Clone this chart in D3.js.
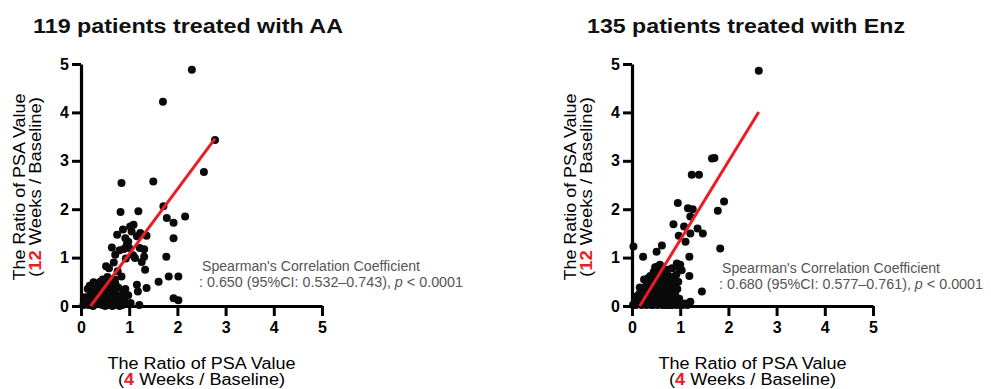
<!doctype html>
<html>
<head>
<meta charset="utf-8">
<title>PSA ratio scatter</title>
<script src="https://cdn.jsdelivr.net/npm/d3@7"></script>
<style>
  body { margin: 0; background: #fff; }
  svg text { font-family: "Liberation Sans", Arial, sans-serif; }
</style>
</head>
<body>
<svg id="chart" width="991" height="389"></svg>
<script>
  const titles = ["119 patients treated with AA", "135 patients treated with Enz"];
  const xTicks = [0, 1, 2, 3, 4, 5];
  const yTicks = [0, 1, 2, 3, 4, 5];

  // [4 weeks / baseline, 12 weeks / baseline]
  const aaPoints = [
    [2.30, 4.88], [1.70, 4.22], [2.78, 3.43], [2.55, 2.77], [0.84, 2.54], [1.50, 2.57],
    [1.71, 2.06], [2.16, 1.85], [1.78, 1.82], [1.92, 1.72], [1.19, 1.96], [0.82, 1.94],
    [1.92, 1.40], [1.77, 1.02], [1.09, 1.68], [0.87, 1.58], [0.75, 1.47], [1.05, 1.54],
    [1.23, 1.51], [1.36, 1.45], [1.16, 1.44], [0.98, 1.33], [0.95, 1.27], [0.89, 1.18],
    [1.31, 1.17], [0.64, 1.21], [1.12, 0.99], [1.31, 1.02], [0.71, 1.06], [1.26, 0.91],
    [1.33, 0.75], [0.52, 0.82], [0.84, 0.61], [1.61, 0.50], [1.82, 0.61], [2.02, 0.61],
    [1.16, 0.44], [1.36, 0.37], [1.18, 0.30], [1.92, 0.16], [2.02, 0.12], [1.03, 0.06],
    [1.21, 0.02], [0.26, 0.49], [0.39, 0.40], [0.53, 0.47], [0.71, 0.47], [0.60, 0.33],
    [1.02, 1.64], [0.92, 1.40], [1.00, 1.20], [0.80, 1.15], [1.08, 1.05], [0.58, 0.78],
    [0.68, 0.90], [1.22, 1.20], [0.93, 0.98], [0.76, 0.72],
    [0.05, 0.02], [0.10, 0.05], [0.12, 0.12], [0.15, 0.02], [0.18, 0.20], [0.20, 0.08],
    [0.22, 0.30], [0.25, 0.15], [0.28, 0.03], [0.30, 0.22], [0.32, 0.10], [0.35, 0.28],
    [0.36, 0.05], [0.38, 0.18], [0.40, 0.12], [0.42, 0.33], [0.44, 0.02], [0.45, 0.22],
    [0.47, 0.08], [0.48, 0.38], [0.50, 0.15], [0.52, 0.28], [0.54, 0.05], [0.55, 0.20],
    [0.57, 0.40], [0.58, 0.10], [0.60, 0.02], [0.62, 0.25], [0.64, 0.15], [0.65, 0.35],
    [0.67, 0.05], [0.68, 0.20], [0.70, 0.30], [0.72, 0.10], [0.74, 0.02], [0.75, 0.22],
    [0.77, 0.38], [0.78, 0.12], [0.80, 0.05], [0.82, 0.20], [0.84, 0.10], [0.86, 0.02],
    [0.88, 0.28], [0.90, 0.15], [0.30, 0.45], [0.40, 0.50], [0.14, 0.35], [0.08, 0.18],
    [0.95, 0.05], [0.92, 0.35], [0.62, 0.55], [0.45, 0.55], [0.35, 0.40], [0.55, 0.60],
    [0.18, 0.42], [0.70, 0.55], [0.25, 0.00], [0.50, 0.00], [0.65, 0.00], [0.80, 0.00],
    [0.98, 0.22]
  ];

  const enzPoints = [
    [2.63, 4.86], [1.66, 3.05], [1.71, 3.06], [1.24, 2.71], [1.39, 2.71], [0.95, 2.13],
    [1.91, 2.16], [1.78, 1.97], [1.16, 2.02], [1.26, 2.00], [1.21, 1.85], [0.86, 1.69],
    [1.08, 1.64], [1.36, 1.60], [1.47, 1.50], [1.21, 1.50], [0.97, 1.45], [1.11, 1.33],
    [1.83, 1.19], [0.62, 1.25], [0.51, 1.12], [0.03, 1.23], [0.23, 1.02], [1.19, 1.02],
    [0.93, 0.88], [1.00, 0.85], [0.83, 0.78], [1.03, 0.74], [0.52, 0.81], [1.19, 0.62],
    [0.69, 0.67], [0.79, 0.54], [0.86, 0.47], [0.90, 0.33], [1.45, 0.30], [0.86, 0.23],
    [1.21, 0.09], [0.83, 0.02], [1.00, 0.02], [0.66, 0.02], [0.53, 0.02],
    [0.02, 0.02], [0.06, 0.10], [0.10, 0.20], [0.12, 0.05], [0.15, 0.25], [0.18, 0.12],
    [0.20, 0.02], [0.22, 0.18], [0.24, 0.30], [0.26, 0.08], [0.28, 0.22], [0.30, 0.02],
    [0.32, 0.15], [0.33, 0.35], [0.35, 0.25], [0.36, 0.05], [0.38, 0.45], [0.40, 0.12],
    [0.41, 0.30], [0.42, 0.20], [0.44, 0.02], [0.45, 0.38], [0.46, 0.52], [0.47, 0.10],
    [0.48, 0.28], [0.50, 0.45], [0.51, 0.18], [0.52, 0.60], [0.53, 0.35], [0.55, 0.08],
    [0.56, 0.25], [0.57, 0.50], [0.58, 0.40], [0.59, 0.15], [0.60, 0.62], [0.61, 0.30],
    [0.62, 0.45], [0.63, 0.02], [0.64, 0.55], [0.65, 0.20], [0.66, 0.38], [0.67, 0.48],
    [0.68, 0.12], [0.69, 0.58], [0.70, 0.30], [0.71, 0.42], [0.72, 0.02], [0.73, 0.52],
    [0.74, 0.22], [0.75, 0.35], [0.76, 0.62], [0.77, 0.10], [0.78, 0.45], [0.79, 0.28],
    [0.80, 0.02], [0.81, 0.55], [0.82, 0.38], [0.83, 0.18], [0.84, 0.48], [0.85, 0.30],
    [0.87, 0.60], [0.88, 0.12], [0.89, 0.42], [0.90, 0.22], [0.92, 0.02], [0.94, 0.35],
    [0.96, 0.50], [0.98, 0.15], [1.05, 0.02], [1.10, 0.05], [1.15, 0.02], [0.34, 0.58],
    [0.45, 0.70], [0.55, 0.72], [0.62, 0.78], [0.70, 0.68], [0.38, 0.62], [0.28, 0.40],
    [0.16, 0.38], [0.08, 0.02], [0.25, 0.55], [0.58, 0.85], [0.48, 0.80], [0.66, 0.70],
    [0.74, 0.75], [0.20, 0.32], [0.43, 0.48], [0.53, 0.12], [0.60, 0.08], [0.78, 0.02],
    [0.86, 0.08], [0.92, 0.65], [0.97, 0.80], [0.40, 0.02]
  ];

  // regression line end points
  const aaFit = [[0.20, 0], [2.78, 3.46]];
  const enzFit = [[0.16, 0], [2.63, 4.01]];

  // rho, CI low, CI high
  const aaStats = ["0.650", "0.532", "0.743"];
  const enzStats = ["0.680", "0.577", "0.761"];

  const panels = [
    { title: titles[0], points: aaPoints, fit: aaFit, stats: aaStats,
      left: 81, titleX: 33, titleW: 310, noteX: 202, noteY: 271 },
    { title: titles[1], points: enzPoints, fit: enzFit, stats: enzStats,
      left: 632, titleX: 587, titleW: 318, noteX: 722, noteY: 273 }
  ];

  const plotTop = 64, w = 241, h = 242;
  const red = '#ec1c24';
  const svg = d3.select('#chart');

  panels.forEach(p => {
    // title
    svg.append('text')
      .attr('x', p.titleX).attr('y', 33)
      .attr('font-size', 20).attr('font-weight', 'bold').attr('fill', '#111')
      .attr('textLength', p.titleW).attr('lengthAdjust', 'spacingAndGlyphs')
      .text(p.title);

    const g = svg.append('g').attr('transform', `translate(${p.left},${plotTop})`);

    const x = d3.scaleLinear().domain([0, 5]).range([0, w]);
    const y = d3.scaleLinear().domain([0, 5]).range([h, 0]);

    const styleAxis = s => {
      s.attr('font-family', null).attr('font-size', null);
      s.select('.domain').attr('stroke', '#000').attr('stroke-width', 3.2);
      s.selectAll('.tick line').attr('stroke', '#000').attr('stroke-width', 3);
      s.selectAll('.tick text').attr('font-size', 16).attr('font-weight', 'bold').attr('fill', '#000');
    };

    g.append('g')
      .attr('transform', `translate(0,${h})`)
      .call(d3.axisBottom(x).tickValues(xTicks).tickFormat(d3.format('d'))
        .tickSize(10).tickSizeOuter(0).tickPadding(6))
      .call(styleAxis);

    g.append('g')
      .call(d3.axisLeft(y).tickValues(yTicks).tickFormat(d3.format('d'))
        .tickSize(9).tickSizeOuter(0).tickPadding(3))
      .call(styleAxis);

    // dots
    g.append('g').selectAll('circle')
      .data(p.points)
      .join('circle')
      .attr('cx', d => x(d[0]))
      .attr('cy', d => y(d[1]))
      .attr('r', 4)
      .attr('fill', '#0a0a0a');

    // fitted line
    g.append('path')
      .datum(p.fit)
      .attr('d', d3.line().x(d => x(d[0])).y(d => y(d[1])))
      .attr('stroke', red).attr('stroke-width', 3).attr('fill', 'none');

    // x axis title
    const xt = g.append('g').attr('transform', `translate(${w / 2},0)`);
    xt.append('text')
      .attr('y', 305).attr('text-anchor', 'middle').attr('font-size', 16)
      .attr('textLength', 188).attr('lengthAdjust', 'spacingAndGlyphs')
      .text('The Ratio of PSA Value');
    const xt2 = xt.append('text')
      .attr('y', 321).attr('text-anchor', 'middle').attr('font-size', 16)
      .attr('textLength', 167).attr('lengthAdjust', 'spacingAndGlyphs');
    xt2.append('tspan').text('(');
    xt2.append('tspan').attr('fill', red).attr('font-weight', 'bold').text('4');
    xt2.append('tspan').text(' Weeks / Baseline)');

    // y axis title
    const yt = g.append('g').attr('transform', `translate(0,${h / 2 + 2}) rotate(-90)`);
    yt.append('text')
      .attr('y', -56).attr('text-anchor', 'middle').attr('font-size', 16)
      .attr('textLength', 187).attr('lengthAdjust', 'spacingAndGlyphs')
      .text('The Ratio of PSA Value');
    const yt2 = yt.append('text')
      .attr('y', -40).attr('text-anchor', 'middle').attr('font-size', 16)
      .attr('textLength', 180).attr('lengthAdjust', 'spacingAndGlyphs');
    yt2.append('tspan').text('(');
    yt2.append('tspan').attr('fill', red).attr('font-weight', 'bold').text('12');
    yt2.append('tspan').text(' Weeks / Baseline)');

    // correlation note
    const note = svg.append('g').attr('fill', '#555').attr('font-size', 14);
    note.append('text')
      .attr('x', p.noteX).attr('y', p.noteY)
      .attr('textLength', 218).attr('lengthAdjust', 'spacingAndGlyphs')
      .text("Spearman's Correlation Coefficient");
    const n2 = note.append('text')
      .attr('x', p.noteX - 3).attr('y', p.noteY + 16)
      .attr('textLength', 264).attr('lengthAdjust', 'spacingAndGlyphs');
    n2.append('tspan').text(`: ${p.stats[0]} (95%CI: ${p.stats[1]}\u2013${p.stats[2]}), `);
    n2.append('tspan').attr('font-style', 'italic').text('p');
    n2.append('tspan').text(' < 0.0001');
  });
</script>
</body>
</html>
